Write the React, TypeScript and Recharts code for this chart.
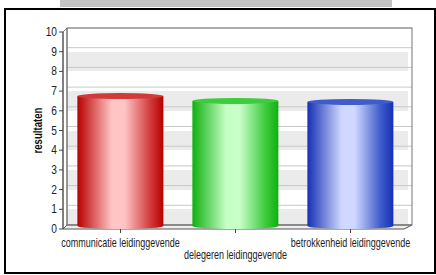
import React from 'react';
import { BarChart, Bar, XAxis, YAxis, CartesianGrid, Cell, useOffset } from 'recharts';

const categories = ['communicatie leidinggevende', 'delegeren leidinggevende', 'betrokkenheid leidinggevende'];
const scores = [6.75, 6.5, 6.45];
const yTicks = [0, 1, 2, 3, 4, 5, 6, 7, 8, 9, 10];
const yTitle = 'resultaten';

const data = categories.map((name, i) => ({ name, value: scores[i] }));

// edge / highlight / cap colours for each cylinder
const palette = [
  { edge: '#b80000', mid: '#ffc4c4', cap: '#d23a3a' },
  { edge: '#10b010', mid: '#c8ffc8', cap: '#3ccc3c' },
  { edge: '#1530b4', mid: '#d0d8ff', cap: '#3f5ccc' },
];

const W = 436;
const H = 275;
const DEPTH = 4;
const FONT = "'Liberation Sans', Arial, sans-serif";
const SQUEEZE = 0.75; // the original text is a narrow face

function Cylinder(props: any) {
  const { x, y, width, height, index } = props;
  if (height <= 0) return null;
  const rx = width / 2;
  const ry = 3;
  const cx = x + rx;
  const bottom = y + height;
  const body = `M${x},${y} L${x},${bottom - ry} A${rx},${ry} 0 0 0 ${x + width},${bottom - ry} L${x + width},${y} Z`;
  return (
    <g>
      <path d={body} fill={`url(#cyl${index})`} />
      <ellipse cx={cx} cy={y} rx={rx} ry={ry} fill={palette[index].cap} />
    </g>
  );
}

function Walls() {
  const off = useOffset();
  if (!off) return null;
  const left = off.left;
  const top = off.top;
  const right = W - off.right;
  const bottom = H - off.bottom;
  return (
    <g>
      <polygon
        points={`${left},${top} ${left + DEPTH},${top - DEPTH} ${left + DEPTH},${bottom - DEPTH} ${left},${bottom}`}
        fill="#ffffff"
        stroke="#777"
        strokeWidth={1}
      />
      <polygon
        points={`${left},${bottom} ${left + DEPTH},${bottom - DEPTH} ${right + DEPTH},${bottom - DEPTH} ${right - 4},${bottom}`}
        fill="#eeeeee"
        stroke="#555"
        strokeWidth={1}
      />
    </g>
  );
}

function BackBorder() {
  const off = useOffset();
  if (!off) return null;
  return (
    <rect
      x={off.left + DEPTH}
      y={off.top - DEPTH}
      width={W - off.left - off.right}
      height={H - off.top - off.bottom}
      fill="none"
      stroke="#777"
      strokeWidth={1}
    />
  );
}

function YTitle() {
  const off = useOffset();
  if (!off) return null;
  const cy = off.top + (H - off.top - off.bottom) / 2;
  return (
    <text
      transform={`translate(${off.left - 21},${cy}) rotate(-90) scale(0.74,1)`}
      textAnchor="middle"
      fontSize={13}
      fontWeight="bold"
      fill="#111"
      fontFamily={FONT}
    >
      {yTitle}
    </text>
  );
}

function CategoryTick(props: any) {
  const { x, y, payload, index } = props;
  const dy = index % 2 === 1 ? 24 : 12;
  return (
    <text
      transform={`translate(${x},${y + dy}) scale(${SQUEEZE},1)`}
      textAnchor="middle"
      fontSize={12}
      fill="#222"
      fontFamily={FONT}
    >
      {payload.value}
    </text>
  );
}

function ValueTick(props: any) {
  const { x, y, payload } = props;
  return (
    <text
      transform={`translate(${x},${y + 4}) scale(0.85,1)`}
      textAnchor="end"
      fontSize={12}
      fill="#222"
      fontFamily={FONT}
    >
      {payload.value}
    </text>
  );
}

export default function App() {
  return (
    <div style={{ position: 'relative', width: W, height: H, background: '#fff' }}>
      <style>{`body{margin:0} .back-grid{transform:translate(${DEPTH}px,-${DEPTH}px)}`}</style>
      <div style={{ position: 'absolute', left: 60, top: 0, width: 332, height: 7, background: '#c4c4c4' }} />
      <div
        style={{
          position: 'absolute',
          left: 4,
          top: 8,
          width: 432,
          height: 266,
          border: '2px solid #000',
          boxSizing: 'border-box',
        }}
      />
      <div style={{ position: 'absolute', left: 0, top: 0 }}>
        <BarChart width={W} height={H} data={data} margin={{ top: 32, right: 28, bottom: 0, left: 23 }} barCategoryGap="12.5%">
          <defs>
            {palette.map((p, i) => (
              <linearGradient key={i} id={`cyl${i}`} x1="0" y1="0" x2="1" y2="0">
                <stop offset="0%" stopColor={p.edge} />
                <stop offset="40%" stopColor={p.mid} />
                <stop offset="55%" stopColor={p.mid} />
                <stop offset="85%" stopColor={p.cap} />
                <stop offset="100%" stopColor={p.edge} />
              </linearGradient>
            ))}
          </defs>
          <Walls />
          <CartesianGrid
            className="back-grid"
            vertical={false}
            stroke="#c8c8c8"
            horizontalFill={['#ffffff', '#ebebeb']}
            fillOpacity={1}
          />
          <BackBorder />
          <XAxis
            dataKey="name"
            height={46}
            interval={0}
            axisLine={false}
            tickLine={{ stroke: '#444' }}
            tickSize={4}
            tick={<CategoryTick />}
          />
          <YAxis
            domain={[0, 10]}
            ticks={yTicks}
            interval={0}
            width={40}
            axisLine={{ stroke: '#444' }}
            tickLine={{ stroke: '#444' }}
            tickSize={4}
            tick={<ValueTick />}
          />
          <YTitle />
          <Bar dataKey="value" shape={<Cylinder />} isAnimationActive={false}>
            {data.map((d, i) => (
              <Cell key={d.name} />
            ))}
          </Bar>
        </BarChart>
      </div>
    </div>
  );
}
